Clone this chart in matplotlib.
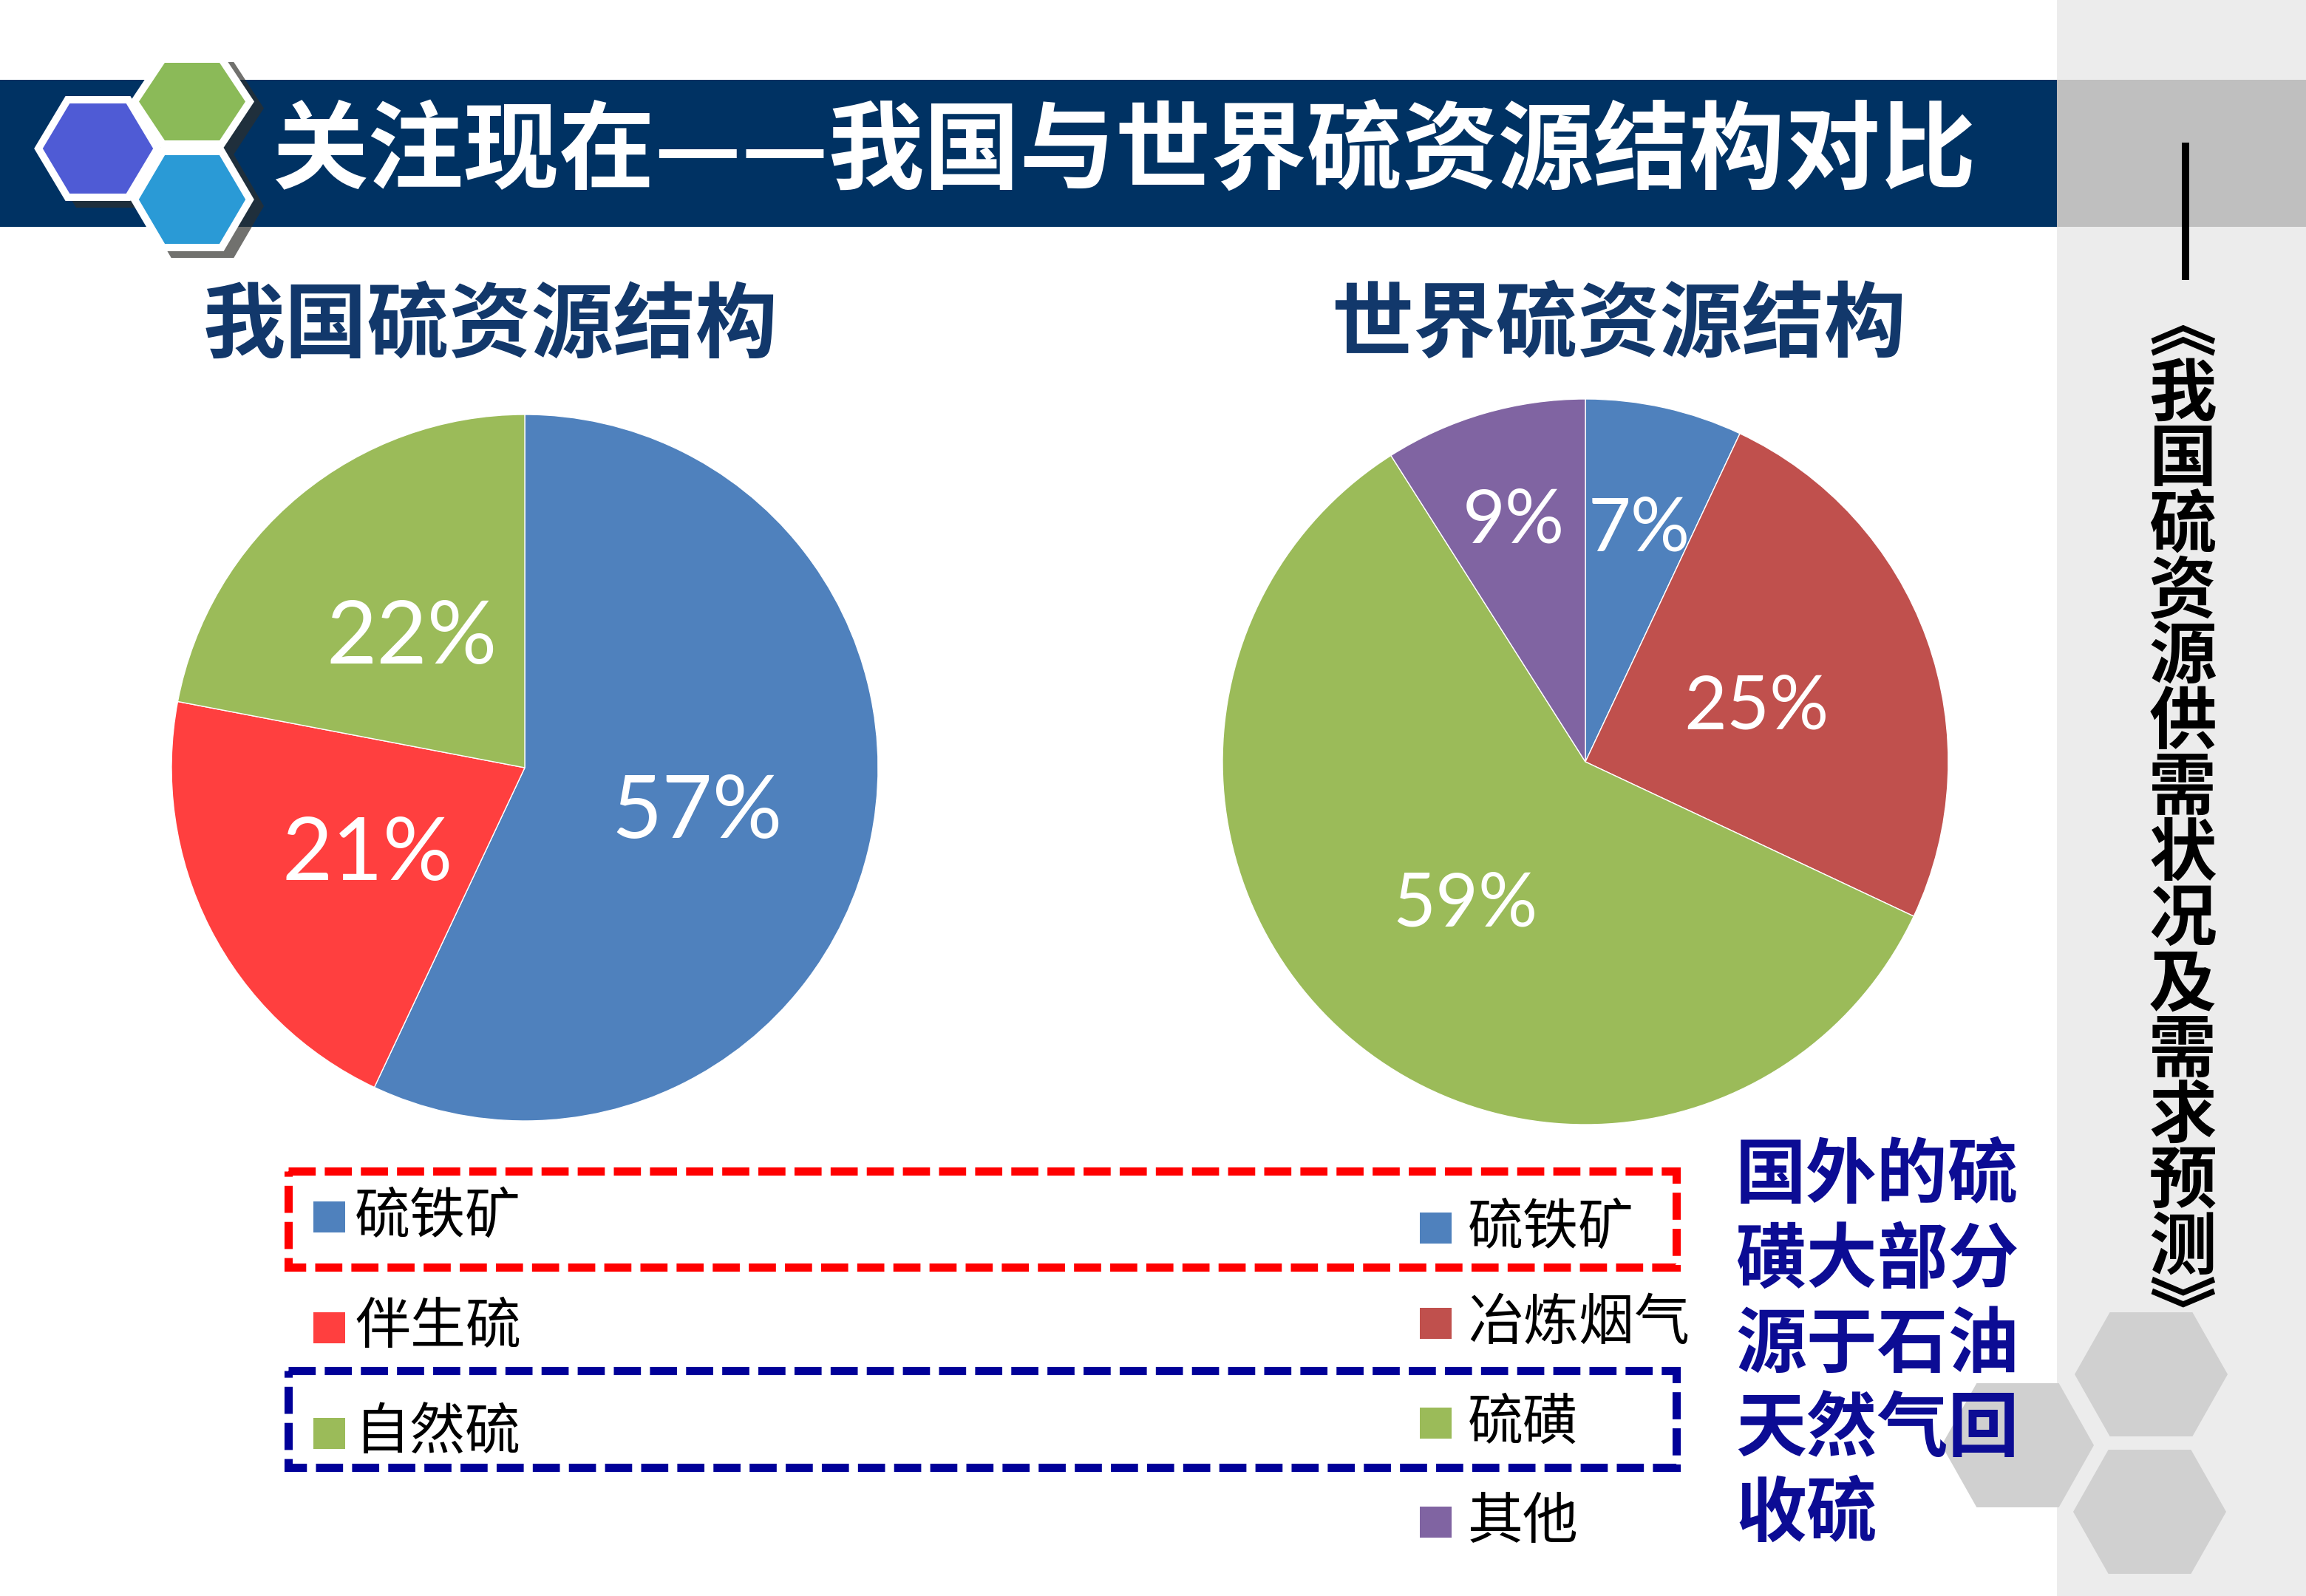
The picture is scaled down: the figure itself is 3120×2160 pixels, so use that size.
import numpy as np
import matplotlib
matplotlib.use('Agg')
import matplotlib.pyplot as plt
from matplotlib.patches import Rectangle, Polygon

plt.rcParams['font.family'] = ['Noto Sans CJK SC', 'DejaVu Sans']

# chart data
china_labels = ['硫铁矿', '伴生硫', '自然硫']
china_values = [57, 21, 22]
china_colors = ['#4f81bd', '#ff3f3f', '#9bbb59']

world_labels = ['硫铁矿', '冶炼烟气', '硫磺', '其他']
world_values = [7, 25, 59, 9]
world_colors = ['#4f81bd', '#c0504d', '#9bbb59', '#8064a2']

title = '关注现在——我国与世界硫资源结构对比'
china_title = '我国硫资源结构'
world_title = '世界硫资源结构'
side_text = '我国硫资源供需状况及需求预测'
note_lines = ['国外的硫', '磺大部分', '源于石油', '天然气回', '收硫']

W, H = 3120, 2160
fig = plt.figure(figsize=(15.6, 10.8), dpi=200)
bg = fig.add_axes([0, 0, 1, 1])
bg.set_xlim(0, W)
bg.set_ylim(H, 0)
bg.axis('off')


def hexagon(x0, x1, y0, y1, k=0.23):
    w = x1 - x0
    yc = (y0 + y1) / 2
    return [(x0, yc), (x0 + k * w, y0), (x1 - k * w, y0),
            (x1, yc), (x1 - k * w, y1), (x0 + k * w, y1)]


# right side bar
bg.add_patch(Rectangle((2783, 0), W - 2783, H, color='#ececec', lw=0))
bg.add_patch(Rectangle((2783, 108), W - 2783, 199, color='#bfbfbf', lw=0))
bg.add_patch(Rectangle((2952, 193), 10, 186, color='black', lw=0))
for (x0, x1, y0, y1) in [(2807, 3014, 1776, 1944), (2805, 3012, 1962, 2130),
                         (2627, 2833, 1872, 2040)]:
    bg.add_patch(Polygon(hexagon(x0, x1, y0, y1), closed=True,
                         color='#d0d0d0', lw=0))

# vertical side title, one character per line, vertical-form brackets
column = '\n'.join(['︽'] + list(side_text) + ['︾'])
bg.text(2953, 1112, column, fontsize=33, fontweight='bold', color='black',
        ha='center', va='center', multialignment='center', linespacing=0.93)

# title bar
bg.add_patch(Rectangle((0, 108), 2783, 199, color='#003263', lw=0))

# logo hexagons
logo = [((47, 218, 130, 272), '#4f5bd5'),
        ((177, 343, 75, 200), '#8bba58'),
        ((177, 343, 200, 340), '#2a9ad6')]
for (x0, x1, y0, y1), c in logo:
    bg.add_patch(Polygon(hexagon(x0 + 14, x1 + 14, y0 + 9, y1 + 9, 0.245),
                         closed=True, color='#2e2e2a', alpha=0.68, lw=0))
for (x0, x1, y0, y1), c in logo:
    bg.add_patch(Polygon(hexagon(x0 + 5, x1 - 5, y0 + 5, y1 - 5, 0.245),
                         closed=True, facecolor=c, edgecolor='white', lw=3.6))

bg.text(368, 207, title, fontsize=46.6, fontweight='bold', color='white',
        ha='left', va='center')

# subtitles
bg.text(275, 442, china_title, fontsize=40, fontweight='bold', color='#12386b',
        ha='left', va='center')
bg.text(1801, 442, world_title, fontsize=40, fontweight='bold', color='#12386b',
        ha='left', va='center')


def draw_pie(cx, cy, r, values, colors, fs, far=None):
    ax = fig.add_axes([(cx - r) / W, 1 - (cy + r) / H, 2 * r / W, 2 * r / H])
    wedges, texts, autotexts = ax.pie(
        values, colors=colors, startangle=90, counterclock=False,
        autopct=lambda p: f'{p:.0f}%', pctdistance=0.5,
        wedgeprops=dict(edgecolor='white', linewidth=0.5),
        textprops=dict(color='white', fontsize=fs, family='Lato'))
    far = far or {}
    for i, t in enumerate(autotexts):
        x, y = t.get_position()
        k = far.get(i, 1.0)
        t.set_position((x * k, y * k - 0.02))
    ax.set_xlim(-1, 1)
    ax.set_ylim(-1, 1)
    return wedges


draw_pie(710, 1039, 478, china_values, china_colors, 42.5)
draw_pie(2145, 1031, 491, world_values, world_colors, 36, far={0: 1.35, 3: 1.42})

# legends
china_rows = [1647, 1797, 1940]
for lab, c, y in zip(china_labels, china_colors, china_rows):
    bg.add_patch(Rectangle((424, y - 21), 43, 42, color=c, lw=0))
    bg.text(480, y, lab, fontsize=27, color='black', ha='left', va='center')

world_rows = [1662, 1791, 1926, 2060]
for lab, c, y in zip(world_labels, world_colors, world_rows):
    bg.add_patch(Rectangle((1921, y - 21), 43, 42, color=c, lw=0))
    bg.text(1986, y, lab, fontsize=27, color='black', ha='left', va='center')

# dashed highlight boxes
bg.add_patch(Rectangle((390, 1585), 1878, 130, fill=False, edgecolor='#ff0000',
                       lw=4, linestyle=(0, (3.3, 1.1))))
bg.add_patch(Rectangle((390, 1855), 1878, 131, fill=False, edgecolor='#000099',
                       lw=4, linestyle=(0, (3.3, 1.1))))

# note text
for i, line in enumerate(note_lines):
    bg.text(2348, 1592 + 114.5 * i, line, fontsize=34.5, fontweight='bold',
            color='#0c0c94', ha='left', va='center')

fig.savefig('out.png', dpi=200)
